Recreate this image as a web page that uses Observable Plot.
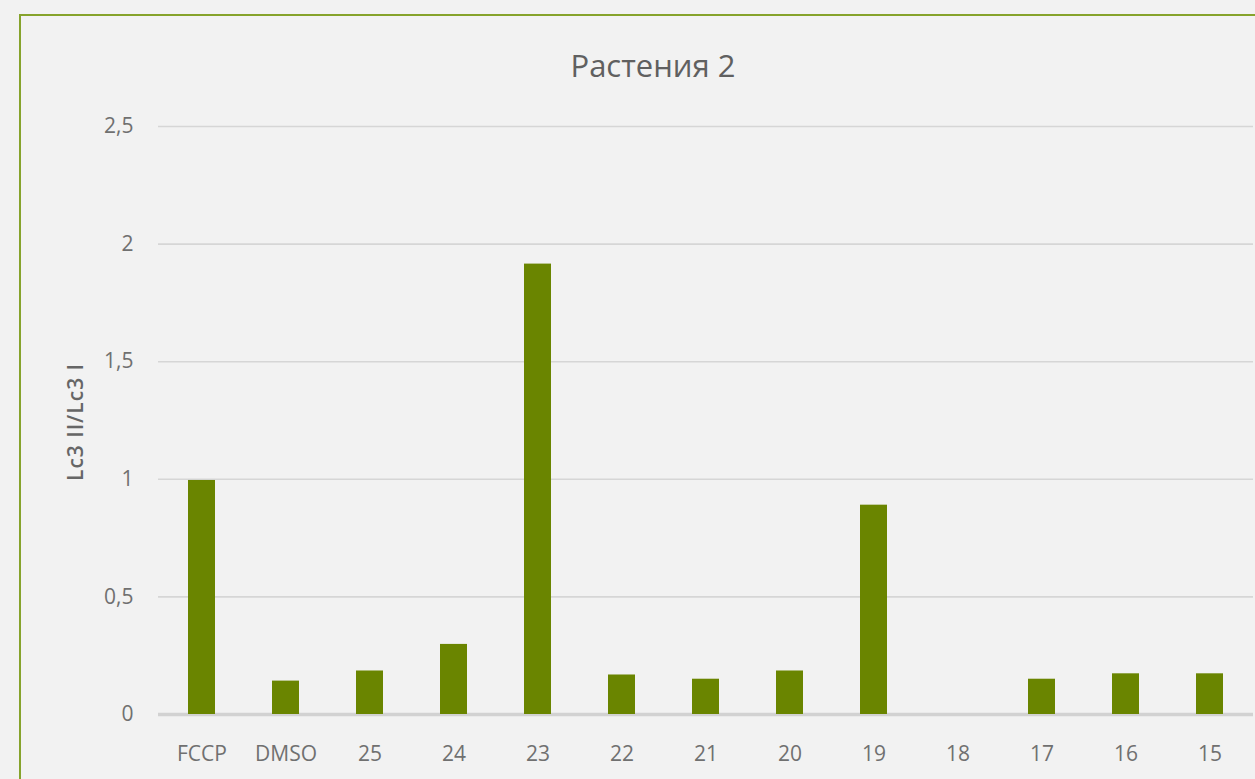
<!DOCTYPE html>
<html>
<head>
<meta charset="utf-8">
<script src="https://cdn.jsdelivr.net/npm/d3@7"></script>
<script src="https://cdn.jsdelivr.net/npm/@observablehq/plot@0.6"></script>
<style>
  html, body { margin: 0; padding: 0; background: #f2f2f2; overflow: hidden; }
  #wrap { position: relative; width: 1255px; height: 779px; background: #f2f2f2; }
  #frame { position: absolute; left: 19px; top: 14px; width: 1400px; height: 900px;
           border-left: 2.5px solid #86a32c; border-top: 2.5px solid #86a32c; box-sizing: border-box; }
  #title { position: absolute; left: 653px; top: 44px; transform: translateX(-50%);
           font-family: "Open Sans", sans-serif; font-size: 31px; color: #606060; white-space: nowrap; }
  #ylabel { position: absolute; left: 75px; top: 422px; transform: translate(-50%, -50%) rotate(-90deg);
            font-family: "Open Sans", sans-serif; font-weight: 600; font-size: 21px; letter-spacing: 1px;
            color: #666; white-space: nowrap; }
  #chart { position: absolute; left: 0; top: 0; }
</style>
</head>
<body>
<div id="wrap">
  <div id="frame"></div>
  <div id="chart"></div>
  <div id="title">Растения 2</div>
  <div id="ylabel">Lc3 II/Lc3 I</div>
</div>
<script>
const categories = ["FCCP", "DMSO", "25", "24", "23", "22", "21", "20", "19", "18", "17", "16", "15"];
const values = [0.995, 0.142, 0.185, 0.298, 1.915, 0.168, 0.15, 0.185, 0.89, 0, 0.15, 0.173, 0.173];
const yTicks = [0, 0.5, 1, 1.5, 2, 2.5];
const yTickLabels = ["0", "0,5", "1", "1,5", "2", "2,5"];

const data = categories.map((c, i) => ({category: c, value: values[i]}));

const plot = Plot.plot({
  width: 1255,
  height: 779,
  marginLeft: 158,
  marginRight: 2,
  marginTop: 126,
  marginBottom: 65,
  style: { background: "transparent", fontFamily: "Open Sans, sans-serif", fontSize: "21px", color: "#777" },
  x: { domain: categories, paddingInner: 0.68, paddingOuter: 0.34 },
  y: { domain: [0, 2.5] },
  marks: [
    Plot.ruleY(yTicks.filter(d => d !== 0), { stroke: "#d6d6d6", strokeWidth: 1.6 }),
    Plot.ruleY([0], { stroke: "#d2d2d2", strokeWidth: 3.5 }),
    Plot.barY(data, { x: "category", y: "value", fill: "#6a8500" }),
    Plot.axisY({ ticks: yTicks, tickFormat: (d, i) => yTickLabels[yTicks.indexOf(d)], tickSize: 0, tickPadding: 25, label: null, fill: "#707070" }),
    Plot.axisX({ tickSize: 0, tickPadding: 32, label: null, fill: "#707070" })
  ]
});
document.getElementById("chart").appendChild(plot);
</script>
</body>
</html>
